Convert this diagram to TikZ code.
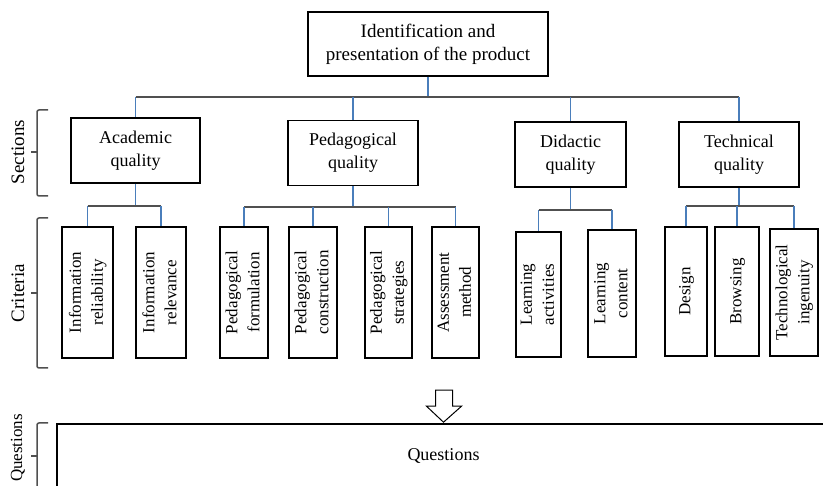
\documentclass[tikz,border=0pt]{standalone}
\usepackage{fontspec}
\setmainfont{Liberation Serif}

\definecolor{linkblue}{RGB}{74,126,187}
\definecolor{bargray}{RGB}{80,80,80}
\newcommand{\vlabel}[1]{\rotatebox{90}{\begin{tabular}{@{}c@{}}#1\end{tabular}}}
\tikzset{
  blue link/.style={draw=linkblue,line width=1.3pt},
  gray bar/.style={draw=bargray,line width=1.5pt},
  side brace/.style={draw=bargray,line width=1.5pt,rounded corners=2pt}
}

\begin{document}
\begin{tikzpicture}[x=1pt,y=-1pt]
    \useasboundingbox (0,0) rectangle (823,486);
    \node[draw,line width=1.2pt,inner sep=0pt,minimum width=240,minimum height=64,
        align=center,font=\fontsize{19}{23}\selectfont] (top) at (428,44)
        {Identification and\\presentation of the product};
    % sections
    \begin{scope}[every node/.style={draw,line width=1.2pt,inner sep=0pt,minimum height=65,
        align=center,font=\fontsize{18}{23}\selectfont}]
        \node[minimum width=129] (acad) at (135.5,150.5) {Academic\\quality};
        \node[minimum width=130] (ped) at (353,153) {Pedagogical\\quality};
        \node[minimum width=111] (did) at (570.5,154.5) {Didactic\\quality};
        \node[minimum width=120] (tech) at (739,154.5) {Technical\\quality};
    \end{scope}
    % criteria
    \begin{scope}[every node/.style={draw,line width=1.8pt,inner sep=0pt,minimum height=131,
        font=\fontsize{17}{22}\selectfont}]
        \node[minimum width=51] (rel) at (87.5,292.5) {\vlabel{Information\\reliability}};
        \node[minimum width=50] (relv) at (161,292.5) {\vlabel{Information\\relevance}};
        \node[minimum width=48] (form) at (244,292.5) {\vlabel{Pedagogical\\formulation}};
        \node[minimum width=48] (cons) at (313,292.5) {\vlabel{Pedagogical\\construction}};
        \node[minimum width=47] (strat) at (388.5,292.5) {\vlabel{Pedagogical\\strategies}};
        \node[minimum width=47] (assess) at (455.5,292.5) {\vlabel{Assessment\\method}};
        \node[minimum width=45,minimum height=125] (act) at (538.5,294.5) {\vlabel{Learning\\activities}};
        \node[minimum width=48,minimum height=127] (cont) at (612,293.5) {\vlabel{Learning\\content}};
        \node[minimum width=42,minimum height=129] (design) at (686,291.5) {\vlabel{Design}};
        \node[minimum width=44,minimum height=129] (brows) at (737,291.5) {\vlabel{Browsing}};
        \node[minimum width=48,minimum height=127] (ingen) at (794,292.5) {\vlabel{Technological\\ingenuity}};
    \end{scope}
    % side labels
    \begin{scope}[every node/.style={rotate=90,inner sep=0pt,font=\fontsize{19}{23}\selectfont}]
        \node (lsec) at (18,152) {Sections};
        \node (lcrit) at (18,293) {Criteria};
        \node[font=\fontsize{17}{21}\selectfont] (lques) at (18,448) {Questions};
    \end{scope}
    \draw[side brace] (48,110) -- (37,110) -- (37,196) -- (48,196);
    \draw[side brace] (37,152) -- (31,152);
    \draw[side brace] (48,218) -- (37,218) -- (37,368) -- (48,368);
    \draw[side brace] (37,293) -- (31,293);
    \draw[side brace] (48,423) -- (37,423) -- (37,500);
    \draw[side brace] (37,456) -- (31,456);
    % questions
    \node[draw,line width=1.6pt,inner sep=0pt,minimum width=773,minimum height=64,
        font=\fontsize{18}{22}\selectfont] (quest) at (443.5,456) {Questions};
    \draw[line width=1pt] (quest.north) ++(0,-1) -- ++(-17,-16) -- ++(9,0) -- ++(0,-16)
        -- ++(17,0) -- ++(0,16) -- ++(9,0) -- cycle;
    % tree links
    \coordinate (b0) at (0,97);
    \coordinate (ba) at (0,206);
    \coordinate (bp) at (0,207);
    \coordinate (bd) at (0,210);
    \coordinate (bt) at (0,206);
    \draw[blue link] (top.south) -- (top.south |- b0);
    \draw[gray bar] (acad.north |- b0) -- (tech.north |- b0);
    \foreach \n in {acad,ped,did,tech}
        \draw[blue link] (\n.north |- b0) -- (\n.north);
    \draw[blue link] (acad.south) -- (acad.south |- ba);
    \draw[gray bar] (rel.north |- ba) -- (relv.north |- ba);
    \foreach \n in {rel,relv}
        \draw[blue link] (\n.north |- ba) -- (\n.north);
    \draw[blue link] (ped.south) -- (ped.south |- bp);
    \draw[gray bar] (form.north |- bp) -- (assess.north |- bp);
    \foreach \n in {form,cons,strat,assess}
        \draw[blue link] (\n.north |- bp) -- (\n.north);
    \draw[blue link] (did.south) -- (did.south |- bd);
    \draw[gray bar] (act.north |- bd) -- (cont.north |- bd);
    \foreach \n in {act,cont}
        \draw[blue link] (\n.north |- bd) -- (\n.north);
    \draw[blue link] (tech.south) -- (tech.south |- bt);
    \draw[gray bar] (design.north |- bt) -- (ingen.north |- bt);
    \foreach \n in {design,brows,ingen}
        \draw[blue link] (\n.north |- bt) -- (\n.north);
\end{tikzpicture}
\end{document}
